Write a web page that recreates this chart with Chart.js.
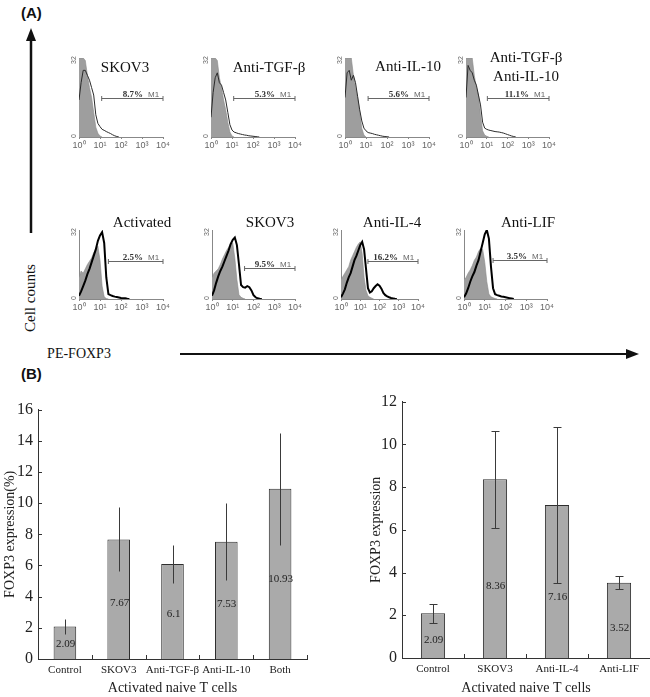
<!DOCTYPE html>
<html>
<head>
<meta charset="utf-8">
<script src="https://cdn.jsdelivr.net/npm/chart.js@4.4.0/dist/chart.umd.min.js"></script>
<style>
  body { margin: 0; background: #fff; width: 650px; height: 697px; position: relative; overflow: hidden; }
  canvas { position: absolute; }
  .t { position: absolute; font-family: "Liberation Serif", serif; font-size: 15px; color: #111;
       white-space: nowrap; transform: translate(-50%, -50%); line-height: 1; }
  .panel { position: absolute; font-family: "Liberation Sans", Arial, sans-serif; font-weight: bold; font-size: 15px; color: #111; }
  svg { position: absolute; left: 0; top: 0; pointer-events: none; }
</style>
</head>
<body>

<div class="panel" style="left:21px;top:4px">(A)</div>
<div class="panel" style="left:21px;top:365px">(B)</div>
<div class="t" style="left:30px;top:298px;transform:translate(-50%,-50%) rotate(-90deg)">Cell counts</div>
<div class="t" style="left:79px;top:354px;font-size:14px">PE-FOXP3</div>

<svg width="650" height="697">
  <line x1="31" y1="38" x2="31" y2="233" stroke="#111" stroke-width="2.5"/>
  <polygon points="31,28 26,41 36,41" fill="#111"/>
  <line x1="180" y1="354" x2="628" y2="354" stroke="#111" stroke-width="2"/>
  <polygon points="639,354 626,349 626,359" fill="#111"/>
</svg>

<script>
/* ---------- histogram data (panel A) ---------- */

// x positions in decades (10^0 .. 10^3)
const DEC = [0, 0.1, 0.2, 0.3, 0.4, 0.5, 0.6, 0.7, 0.8, 0.9, 1.0, 1.1, 1.2, 1.3, 1.4, 1.5,
             1.6, 1.7, 1.8, 1.9, 2.0, 2.1, 2.2, 2.3, 2.4, 2.5, 2.6, 2.7, 2.8, 2.9, 3.0];
const SUP = ["\u2070", "\u00b9", "\u00b2", "\u00b3", "\u2074"];

const r1Titles = [["SKOV3"], ["Anti-TGF-\u03b2"], ["Anti-IL-10"], ["Anti-TGF-\u03b2", "Anti-IL-10"]];
const r1Pct = ["8.7%", "5.3%", "5.6%", "11.1%"];
const r1GateFrom = [1.08, 1.08, 1.1, 1.03];
const r1GateLevel = [16, 16, 16, 16];

const r1c1Gray = [32, 32, 32, 31, 25, 20, 16, 10, 4, 1.5, 0.4, 0];
const r1c1Line = [15, 22, 27, 27, 25, 23, 20, 17, 9, 5.5, 4.2, 3.1, 2.7, 2.2, 1.8, 1.4, 0.9, 0.5, 0.2, 0];
const r1c2Gray = [32, 32, 32, 31, 24, 20, 15, 11, 6, 2, 0.4, 0];
const r1c2Line = [8, 18, 24, 26, 22, 21, 18, 15, 10, 5, 2.8, 2.0, 1.7, 1.4, 1.2, 1.0, 0.8, 0.7, 0.5, 0.4, 0.3, 0.2, 0.1, 0];
const r1c3Gray = [32, 32, 32, 32, 25, 20, 16, 10, 3.5, 0.8, 0];
const r1c3Line = [16, 26, 27, 23, 25, 22, 16.5, 11, 6.5, 3.6, 2.5, 1.8, 1.6, 1.4, 1.1, 0.9, 0.7, 0.5, 0.3, 0.2, 0.1, 0];
const r1c4Gray = [32, 32, 32, 32, 25, 20, 17, 9, 2.5, 0.8, 0.3, 0];
const r1c4Line = [16, 29, 27, 26, 23, 21, 17, 13, 6, 3.6, 3.1, 2.8, 2.6, 2.4, 2.2, 2.1, 2.0, 1.8, 1.6, 1.3, 1.0, 0.7, 0.4, 0.2, 0];

const r2Titles = [["Activated"], ["SKOV3"], ["Anti-IL-4"], ["Anti-LIF"]];
const r2Pct = ["2.5%", "9.5%", "16.2%", "3.5%"];
const r2GateFrom = [1.4, 1.57, 1.4, 1.4];
const r2GateLevel = [17.8, 14.2, 17.8, 18.1];

const r2c1Gray = [10, 13, 12, 14, 16, 17.5, 19, 21.5, 23, 24.5, 18, 6, 1, 0.2, 0];
const r2c1Line = [1.5, 3.5, 6, 8.5, 11.5, 14, 17, 20, 23, 27, 29.5, 31, 26, 10, 2.3, 1.8, 1.4, 1.1, 0.9, 0.7, 0.5, 0.4, 0.3, 0.1, 0];
const r2c2Gray = [10, 12, 13, 14, 16, 18.5, 20.5, 22.5, 24, 26, 26, 19, 9, 2, 0.8, 0.3, 0];
const r2c2Line = [1.5, 4, 7.5, 10.5, 13, 15, 17.5, 20, 22.5, 25.5, 27.5, 28.5, 25, 16, 6.5, 5.5, 5.3, 6, 5.5, 4, 1.8, 0.8, 0.3, 0.1, 0];
const r2c3Gray = [9, 10.5, 12, 13.5, 15, 18, 20, 22, 24, 25.5, 26.5, 21, 10, 4, 1.5, 0.8, 0.4, 0];
const r2c3Line = [0.8, 2.5, 4.5, 7.5, 10, 12, 15, 18, 20, 22.5, 25, 26.5, 23, 14, 5, 3, 3.6, 5, 6, 6.8, 6.2, 4.8, 2.8, 1.8, 1.2, 0.8, 0.5, 0.3, 0.1, 0];
const r2c4Gray = [9, 10, 12, 13.5, 15.5, 18, 19.5, 22, 23.5, 23, 17, 8, 2.3, 1, 0.6, 0.2, 0];
const r2c4Line = [0.8, 2.5, 5, 8, 10.5, 12.5, 15.5, 18, 22, 26, 30, 32, 28, 15, 5, 2.2, 1.8, 1.5, 1.2, 1.0, 0.8, 0.6, 0.4, 0.2, 0];

/* ---------- bar data (panel B) ---------- */

const leftCats = ["Control", "SKOV3", "Anti-TGF-\u03b2", "Anti-IL-10", "Both"];
const leftVals = [2.09, 7.67, 6.1, 7.53, 10.93];
const leftErr = [0.5, 2.05, 1.24, 2.46, 3.6];

const rightCats = ["Control", "SKOV3", "Anti-IL-4", "Anti-LIF"];
const rightVals = [2.09, 8.36, 7.16, 3.52];
const rightErr = [0.46, 2.27, 3.64, 0.3];

/* ---------- layout ---------- */

const SERIF = "'Liberation Serif', 'Times New Roman', serif";
const SANS = "'Liberation Sans', Arial, sans-serif";

const rows = [
  { top: 58, h: 79, lefts: [79, 211, 345, 466], widths: [84, 84, 84, 83], lw: 1, col: "#2a2a2a",
    titles: r1Titles, pct: r1Pct, from: r1GateFrom, level: r1GateLevel,
    gray: [r1c1Gray, r1c2Gray, r1c3Gray, r1c4Gray], line: [r1c1Line, r1c2Line, r1c3Line, r1c4Line],
    titlePos: [[125, 67], [269, 67], [408, 66], [526, 57]] },
  { top: 230, h: 69, lefts: [79, 212, 341, 464], widths: [84, 83, 77, 83], lw: 2, col: "#000",
    titles: r2Titles, pct: r2Pct, from: r2GateFrom, level: r2GateLevel,
    gray: [r2c1Gray, r2c2Gray, r2c3Gray, r2c4Gray], line: [r2c1Line, r2c2Line, r2c3Line, r2c4Line],
    titlePos: [[142, 222], [270, 222], [392, 222], [528, 222]] }
];

function addCanvas(left, top, w, h) {
  const cv = document.createElement("canvas");
  cv.width = w; cv.height = h;
  cv.style.left = left + "px"; cv.style.top = top + "px";
  document.body.appendChild(cv);
  return cv;
}

function addText(txt, x, y, size) {
  const d = document.createElement("div");
  d.className = "t";
  d.style.left = x + "px"; d.style.top = y + "px";
  if (size) d.style.fontSize = size + "px";
  d.textContent = txt;
  document.body.appendChild(d);
}

const pts = arr => arr.map((v, i) => ({ x: DEC[i], y: v }));

/* ---------- histogram factory ---------- */

function makeHist(left, top, w, h, gray, line, lw, col, gateFrom, gateLevel, pct) {
  const PADL = 14, PADT = 5, PADR = 8, XH = 15;
  const cv = addCanvas(left - PADL, top - PADT, PADL + w + PADR, PADT + h + XH);

  const extras = {
    id: "histExtras",
    afterDraw(chart) {
      const { ctx, chartArea: a, scales: { x, y } } = chart;
      ctx.save();
      // rotated y labels
      ctx.fillStyle = "#666";
      ctx.font = "7px " + SANS;
      ctx.textAlign = "center";
      ctx.textBaseline = "middle";
      [[32, "32"], [0, "0"]].forEach(([v, s]) => {
        ctx.save();
        ctx.translate(a.left - 5, y.getPixelForValue(v) + (v === 0 ? -1 : 2));
        ctx.rotate(-Math.PI / 2);
        ctx.fillText(s, 0, 0);
        ctx.restore();
      });
      // M1 gate
      const gy = Math.round(y.getPixelForValue(gateLevel)) + 0.5;
      const gx0 = x.getPixelForValue(gateFrom), gx1 = x.getPixelForValue(4);
      ctx.strokeStyle = "#666";
      ctx.lineWidth = 1;
      ctx.beginPath();
      ctx.moveTo(gx0, gy); ctx.lineTo(gx1, gy);
      ctx.moveTo(gx0, gy - 2.5); ctx.lineTo(gx0, gy + 2.5);
      ctx.moveTo(gx1, gy - 2.5); ctx.lineTo(gx1, gy + 2.5);
      ctx.stroke();
      ctx.textBaseline = "alphabetic";
      ctx.fillStyle = "#333";
      ctx.font = "bold 9px " + SERIF;
      ctx.textAlign = "right";
      ctx.fillText(pct, gx1 - 20, gy - 2);
      ctx.fillStyle = "#666";
      ctx.font = "8px " + SANS;
      ctx.textAlign = "left";
      ctx.fillText("M1", gx1 - 15, gy - 2);
      ctx.restore();
    }
  };

  return new Chart(cv, {
    type: "line",
    data: {
      datasets: [
        { data: pts(line), borderColor: col, borderWidth: lw, fill: false, pointRadius: 0, tension: 0 },
        { data: pts(gray), borderColor: "#8a8a8a", borderWidth: 0.6, backgroundColor: "#9e9e9e",
          fill: "origin", pointRadius: 0, tension: 0 }
      ]
    },
    options: {
      responsive: false,
      animation: false,
      events: [],
      layout: { padding: { left: 0, right: PADR, top: PADT, bottom: 0 } },
      plugins: { legend: { display: false }, tooltip: { enabled: false } },
      scales: {
        x: {
          type: "linear", min: 0, max: 4,
          afterFit: s => { s.height = XH; },
          grid: { display: true, drawOnChartArea: false, drawTicks: true, tickLength: 2, color: "#888" },
          border: { color: "#888", width: 1 },
          ticks: { stepSize: 1, padding: 1, maxRotation: 0, autoSkip: false,
                   font: { family: SANS, size: 9 }, color: "#666",
                   callback: v => "10" + SUP[v] }
        },
        y: {
          min: 0, max: 32,
          afterFit: s => { s.width = PADL; },
          grid: { display: false, drawTicks: false },
          border: { color: "#888", width: 1 },
          ticks: { display: false }
        }
      }
    },
    plugins: [extras]
  });
}

rows.forEach(r => {
  for (let i = 0; i < 4; i++) {
    makeHist(r.lefts[i], r.top, r.widths[i], r.h, r.gray[i], r.line[i], r.lw, r.col,
             r.from[i], r.level[i], r.pct[i]);
    const [tx, ty] = r.titlePos[i];
    r.titles[i].forEach((s, k) => addText(s, tx, ty + k * 19));
  }
});

/* ---------- bar chart factory ---------- */

function makeBars(left, top, w, h, yW, xH, padR, cats, vals, errs, yMax, yTitle, caps, frac, barPct) {
  const cv = addCanvas(left, top, w, h);

  const extras = {
    id: "barExtras",
    afterDatasetsDraw(chart) {
      const { ctx, chartArea: a, scales: { x, y } } = chart;
      ctx.save();
      ctx.strokeStyle = "#3a3a3a";
      ctx.lineWidth = 1;
      vals.forEach((v, i) => {
        const px = Math.round(x.getPixelForValue(i)) + 0.5;
        const t = Math.round(y.getPixelForValue(v + errs[i])) + 0.5;
        const b = Math.round(y.getPixelForValue(v - errs[i])) + 0.5;
        ctx.beginPath();
        ctx.moveTo(px, t); ctx.lineTo(px, b);
        if (caps) {
          ctx.moveTo(px - 4, t); ctx.lineTo(px + 4, t);
          ctx.moveTo(px - 4, b); ctx.lineTo(px + 4, b);
        }
        ctx.stroke();
        ctx.fillStyle = "#222";
        ctx.font = "11px " + SERIF;
        ctx.textAlign = "center";
        ctx.textBaseline = "middle";
        ctx.fillText(String(v), px, y.getPixelForValue(v * frac));
      });
      // inward ticks
      ctx.strokeStyle = "#333";
      ctx.beginPath();
      y.ticks.forEach(tk => {
        const py = Math.round(y.getPixelForValue(tk.value)) + 0.5;
        ctx.moveTo(a.left, py); ctx.lineTo(a.left + 4, py);
      });
      vals.forEach((v, i) => {
        const bx = i < vals.length - 1
          ? (x.getPixelForValue(i) + x.getPixelForValue(i + 1)) / 2
          : a.right - 0.5;
        const px = Math.round(bx) + 0.5;
        ctx.moveTo(px, a.bottom); ctx.lineTo(px, a.bottom - 4);
      });
      ctx.stroke();
      ctx.restore();
    }
  };

  return new Chart(cv, {
    type: "bar",
    data: {
      labels: cats,
      datasets: [{
        data: vals, backgroundColor: "#aaaaaa", borderColor: "#2e2e2e", borderWidth: 1,
        barPercentage: barPct, categoryPercentage: 1
      }]
    },
    options: {
      responsive: false,
      animation: false,
      events: [],
      layout: { padding: { left: 0, right: padR, top: 10, bottom: 0 } },
      plugins: { legend: { display: false }, tooltip: { enabled: false } },
      scales: {
        x: {
          afterFit: s => { s.height = xH; },
          grid: { display: false, drawTicks: false },
          border: { color: "#333", width: 1 },
          ticks: { padding: 5, maxRotation: 0, autoSkip: false, font: { family: SERIF, size: 11 }, color: "#222" },
          title: { display: true, text: "Activated naive T cells", font: { family: SERIF, size: 14 },
                   color: "#222", padding: { top: 2, bottom: 0 } }
        },
        y: {
          min: 0, max: yMax,
          afterFit: s => { s.width = yW; },
          grid: { display: false, drawTicks: false },
          border: { color: "#333", width: 1 },
          ticks: { stepSize: 2, padding: 5, font: { family: SERIF, size: 16 }, color: "#222" },
          title: { display: true, text: yTitle, font: { family: SERIF, size: 14 },
                   color: "#222", padding: { top: 2, bottom: 0 } }
        }
      }
    },
    plugins: [extras]
  });
}

makeBars(0, 395, 315, 302, 38, 38, 8, leftCats, leftVals, leftErr, 16, "FOXP3 expression(%)", false, 0.47, 0.42);
makeBars(366, 387, 284, 310, 36, 39, 0, rightCats, rightVals, rightErr, 12, "FOXP3 expression", true, 0.4, 0.39);
</script>
</body>
</html>
